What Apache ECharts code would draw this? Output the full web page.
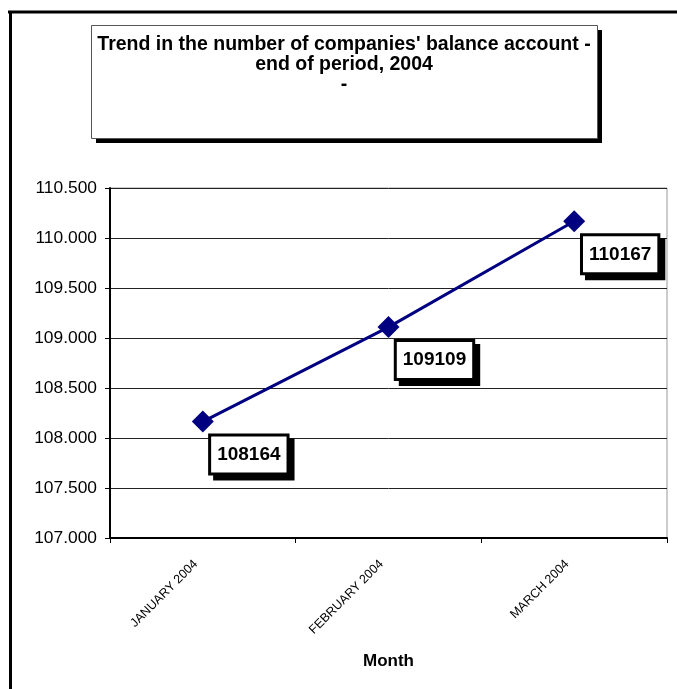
<!DOCTYPE html>
<html>
<head>
<meta charset="utf-8">
<script src="https://cdn.jsdelivr.net/npm/echarts@6/dist/echarts.min.js"></script>
<style>
    html, body { margin: 0; padding: 0; background: #fff; }
    #chart { width: 677px; height: 689px; }
</style>
</head>
<body>
<div id="chart"></div>
<script>
    // data
    var months = ['JANUARY 2004', 'FEBRUARY 2004', 'MARCH 2004'];
    var companies = [108164, 109109, 110167];
    var titleLines = ["Trend in the number of companies' balance account -", 'end of period, 2004', '-'];

    // 110500 -> "110.500"
    function dotThousands(v) {
        var s = String(Math.round(v));
        return s.replace(/\B(?=(\d{3})+(?!\d))/g, '.');
    }

    var FONT = 'Liberation Sans, Arial, sans-serif';

    var chart = echarts.init(document.getElementById('chart'));
    var option = {
        animation: false,
        backgroundColor: '#fff',
        textStyle: { fontFamily: FONT },
        graphic: [
            // outer frame (top and left only)
            { type: 'line', shape: { x1: 8, y1: 12, x2: 677, y2: 12 }, style: { stroke: '#000', lineWidth: 3 } },
            { type: 'line', shape: { x1: 10.5, y1: 12, x2: 10.5, y2: 689 }, style: { stroke: '#000', lineWidth: 3 } },
            // title box: shadow then box
            { type: 'rect', z: -2, shape: { x: 96, y: 30, width: 506, height: 113 }, style: { fill: '#000' } },
            { type: 'rect', z: -1, shape: { x: 91.5, y: 25.5, width: 506, height: 113 }, style: { fill: '#fff', stroke: '#555', lineWidth: 1 } }
        ],
        title: {
            text: titleLines.join('\n'),
            left: 344,
            top: 35,
            textAlign: 'center',
            padding: 0,
            textStyle: { fontSize: 19.5, fontWeight: 'bold', color: '#000', lineHeight: 20, fontFamily: FONT }
        },
        grid: { left: 110, top: 188, right: 10, bottom: 151, show: true, borderColor: '#999', borderWidth: 1 },
        xAxis: {
            type: 'category',
            data: months,
            boundaryGap: true,
            name: 'Month',
            nameLocation: 'middle',
            nameGap: 115,
            nameTextStyle: { fontSize: 17, fontWeight: 'bold', color: '#000' },
            axisLine: { lineStyle: { color: '#000', width: 2 } },
            axisTick: { show: true, length: 5, lineStyle: { color: '#000' } },
            axisLabel: { rotate: 45, fontSize: 12.5, color: '#000', margin: 17, padding: [0, 10, 0, 0], interval: 0 }
        },
        yAxis: {
            type: 'value',
            min: 107000,
            max: 110500,
            interval: 500,
            axisLine: { show: true, lineStyle: { color: '#000', width: 2 } },
            axisTick: { show: true, length: 5, lineStyle: { color: '#000' } },
            axisLabel: { fontSize: 17.4, color: '#000', margin: 13, formatter: dotThousands },
            splitLine: { lineStyle: { color: '#222', width: 1 } }
        },
        series: [{
            type: 'line',
            data: companies,
            symbol: 'diamond',
            symbolSize: 22,
            lineStyle: { color: '#000080', width: 3 },
            itemStyle: { color: '#000080' },
            label: {
                show: true,
                position: 'inside',
                offset: [46, 33],
                fontSize: 19,
                fontWeight: 'bold',
                color: '#000',
                backgroundColor: '#fff',
                borderColor: '#000',
                borderWidth: 3,
                padding: [9, 6, 8, 6],
                shadowColor: '#000',
                shadowBlur: 0,
                shadowOffsetX: 5,
                shadowOffsetY: 5
            }
        }]
    };
    chart.setOption(option);
</script>
</body>
</html>
